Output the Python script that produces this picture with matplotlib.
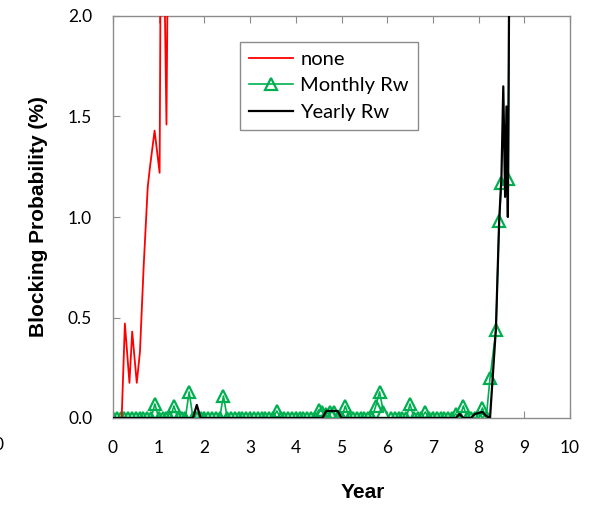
import numpy as np
import matplotlib.pyplot as plt

# "none" series (years, %)
t_none = [0.0, 0.19, 0.26, 0.36, 0.42, 0.52, 0.59, 0.67, 0.76, 0.81, 0.91, 1.02, 1.05, 1.10, 1.17, 1.21]
v_none = [0.0, 0.0, 0.47, 0.175, 0.43, 0.175, 0.33, 0.75, 1.15, 1.25, 1.43, 1.22, 2.6, 2.6, 1.46, 2.6]

# monthly samples (month 0 .. 98), then an irregular tail
months = np.arange(99)
monthly = [
    0, 0, 0, 0, 0, 0, 0, 0, 0, 0, 0, 0.07,
    0, 0, 0, 0, 0.06, 0, 0, 0, 0.13, 0, 0, 0,
    0, 0, 0, 0, 0, 0.11, 0, 0, 0, 0, 0, 0,
    0, 0, 0, 0, 0, 0, 0, 0.035, 0, 0, 0, 0,
    0, 0, 0, 0, 0, 0, 0.04, 0.03, 0.02, 0.03, 0.03, 0,
    0, 0.06, 0, 0, 0, 0, 0, 0, 0, 0.06, 0.13, 0.03,
    np.nan, 0, 0, 0, 0, 0, 0.07, 0, 0, 0, 0.03, 0,
    0, 0, 0, 0, 0, 0, 0.02, 0, 0.06, 0, 0, 0,
    0, 0.05, 0,
]
t_monthly_tail = [8.25, 8.38, 8.45, 8.50, 8.65, 8.68]
v_monthly_tail = [0.2, 0.44, 0.98, 1.17, 1.19, 2.6]

yearly = [
    0, 0, 0, 0, 0, 0, 0, 0, 0, 0, 0, 0,
    0, 0, 0, 0, 0, 0, 0, 0, 0, 0, 0.065, 0,
    0, 0, 0, 0, 0, 0, 0, 0, 0, 0, 0, 0,
    0, 0, 0, 0, 0, 0, 0, 0, 0, 0, 0, 0,
    0, 0, 0, 0, 0, 0, 0, 0, 0.035, 0.035, 0.035, 0.035,
    0, 0, 0, 0, 0, 0, 0, 0, 0, 0, 0, 0,
    0, 0, 0, 0, 0, 0, 0, 0, 0, 0, 0, 0,
    0, 0, 0, 0, 0, 0, 0, 0.02, 0, 0, 0, 0.02,
    0.025, 0.03, 0.01,
]
t_yearly_tail = [8.25, 8.38, 8.45, 8.50, 8.54, 8.58, 8.61, 8.64, 8.68]
v_yearly_tail = [0.0, 0.45, 0.98, 1.2, 1.65, 1.1, 1.55, 1.0, 2.6]

t_m = np.concatenate([months / 12.0, t_monthly_tail])
v_m = np.concatenate([monthly, v_monthly_tail])
t_y = np.concatenate([months / 12.0, t_yearly_tail])
v_y = np.concatenate([yearly, v_yearly_tail])

green = '#00B050'
grey = '#8C8C8C'

fig = plt.figure(figsize=(5.89, 5.07), dpi=100)
ax = fig.add_axes([113 / 589, 1 - 418 / 507, 457 / 589, 402 / 507])

ax.plot(t_m, v_m, color=green, lw=1.2, marker='^', ms=8.5, mfc='none',
        mec=green, mew=1.6, label='Monthly Rw', zorder=2)
ax.plot(t_none, v_none, color='red', lw=1.3, label='none', zorder=3)
ax.plot(t_y, v_y, color='black', lw=1.6, label='Yearly Rw', zorder=4)

ax.set_xlim(0, 10)
ax.set_ylim(0, 2.0)
ax.set_xticks(range(11))
ax.set_yticks([0, 0.5, 1.0, 1.5, 2.0])
ax.set_yticklabels(['0.0', '0.5', '1.0', '1.5', '2.0'])

for s in ax.spines.values():
    s.set_color(grey)
    s.set_linewidth(1)
ax.tick_params(axis='x', direction='in', top=True, length=5, color=grey,
               pad=16, labelsize=12.5, labelfontfamily='Lato')
ax.tick_params(axis='y', direction='in', length=5, color=grey,
               pad=15, labelsize=12.5, labelfontfamily='Lato')

ax.set_xlabel('Year', fontsize=15, fontweight='bold', family='Liberation Sans')
ax.set_ylabel('Blocking Probability (%)', fontsize=15, fontweight='bold',
              family='Liberation Sans')
ax.xaxis.set_label_coords(0.547, -0.162)
ax.yaxis.set_label_coords(-0.142, 0.5)

handles, labels = ax.get_legend_handles_labels()
order = [1, 0, 2]
leg = ax.legend([handles[i] for i in order], [labels[i] for i in order],
                loc='upper left', bbox_to_anchor=(0.278, 0.935),
                borderaxespad=0, fancybox=False, edgecolor=grey, framealpha=1,
                prop={'family': 'Lato', 'size': 14.5},
                handlelength=2.2, handletextpad=0.35, labelspacing=0.45,
                borderpad=0.45)
leg.get_frame().set_linewidth(1)

# clipped leftover tick label at the far left edge
fig.text(-1.5 / 589, 1 - 445 / 507, '0', fontsize=12.5, family='Lato',
         ha='center', va='center')

fig.savefig('out.png', dpi=100)
